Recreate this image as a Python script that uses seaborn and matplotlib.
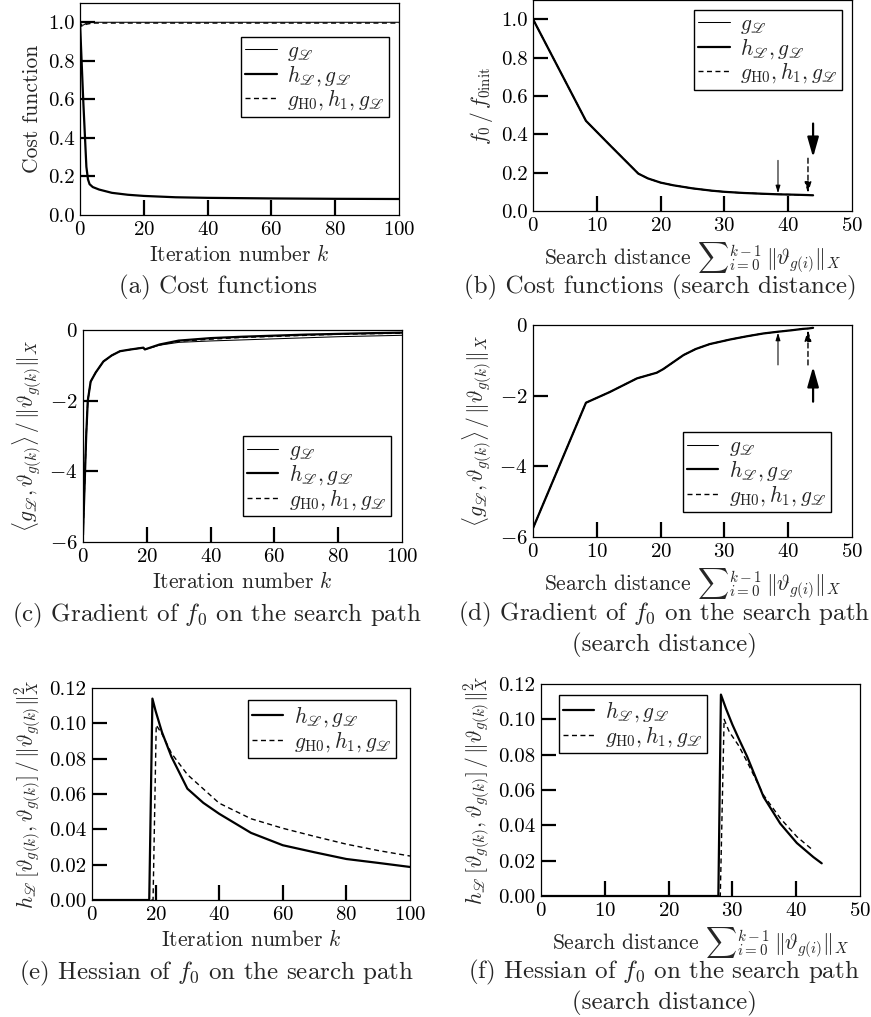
import matplotlib
matplotlib.use('Agg')
import matplotlib.pyplot as plt
import seaborn as sns

# ---- data ----
# (a) cost functions vs iteration number
a_k_top = [0, 0.5, 1, 2, 4, 100]
a_top = [1.0, 0.985, 0.985, 0.995, 1.0, 1.0]
a_top_gh = [1.0, 0.98, 0.982, 0.99, 0.996, 0.996]
a_k = [0, 1, 2, 2.5, 3, 4, 6, 10, 15, 20, 30, 40, 60, 80, 100]
a_cost = [1.0, 0.6, 0.25, 0.185, 0.16, 0.145, 0.132, 0.115, 0.105, 0.099, 0.092, 0.089, 0.086, 0.084, 0.083]

# (b) cost function vs search distance
b_dist = [0, 8.3, 12, 16.5, 18, 20, 22, 25, 28, 30, 33, 36, 38.4, 41, 43.1, 43.9]
b_cost = [1.0, 0.47, 0.345, 0.195, 0.17, 0.148, 0.134, 0.118, 0.106, 0.1, 0.094, 0.09, 0.087, 0.085, 0.083, 0.082]
b_end = [38.4, 43.1, 43.9]          # where g, gH0 and h runs stop
b_tail = [0.264, 0.275, 0.456]
b_tip = [0.093, 0.093, 0.28]

# (c) gradient vs iteration number
c_k = [0, 1, 1.5, 2.4, 4, 6.4, 9, 11.6, 15, 18.9, 19.4, 24, 30, 40, 50, 60, 70, 80, 90, 100]
c_h = [-5.8, -3.0, -2.0, -1.46, -1.2, -0.89, -0.72, -0.6, -0.55, -0.5, -0.55, -0.41, -0.3, -0.23, -0.19, -0.16, -0.13, -0.11, -0.09, -0.075]
c_g = [-5.8, -3.0, -2.0, -1.46, -1.2, -0.89, -0.72, -0.6, -0.55, -0.5, -0.55, -0.43, -0.35, -0.31, -0.28, -0.25, -0.22, -0.19, -0.17, -0.15]
c_gh = [-5.8, -3.0, -2.0, -1.46, -1.2, -0.89, -0.72, -0.6, -0.55, -0.5, -0.55, -0.42, -0.32, -0.26, -0.21, -0.18, -0.15, -0.12, -0.105, -0.09]

# (d) gradient vs search distance
d_dist = [0, 8.3, 12, 16.3, 19.4, 20.4, 22, 23.6, 25.5, 27.7, 30.9, 33.5, 36.1, 38.4, 40.5, 42.3, 43.1, 43.9]
d_grad = [-5.75, -2.2, -1.9, -1.51, -1.35, -1.25, -1.05, -0.85, -0.68, -0.54, -0.41, -0.32, -0.24, -0.19, -0.15, -0.11, -0.1, -0.08]
d_end = [38.4, 43.1, 43.9]
d_tail = [-1.13, -1.13, -2.17]
d_tip = [-0.22, -0.14, -1.18]

# (e) hessian vs iteration number
e_k_h = [0, 18, 19, 20, 22, 25, 30, 35, 40, 50, 60, 70, 80, 90, 100]
e_h = [0, 0, 0.114, 0.107, 0.095, 0.081, 0.063, 0.055, 0.0488, 0.038, 0.031, 0.027, 0.0232, 0.021, 0.0187]
e_k_gh = [0, 19.2, 20.2, 22, 25, 30, 40, 50, 60, 70, 80, 90, 100]
e_gh = [0, 0, 0.099, 0.094, 0.083, 0.071, 0.0548, 0.046, 0.0406, 0.036, 0.0316, 0.028, 0.0249]

# (f) hessian vs search distance
f_dist_h = [0, 27.8, 28.2, 29, 30, 31, 32.3, 34.9, 37.5, 40.1, 42.7, 44]
f_h = [0, 0, 0.114, 0.106, 0.097, 0.089, 0.079, 0.056, 0.041, 0.030, 0.022, 0.0185]
f_dist_gh = [0, 28.1, 28.7, 29.5, 31, 32.3, 34.9, 37.5, 40.1, 42.6]
f_gh = [0, 0, 0.100, 0.093, 0.085, 0.076, 0.057, 0.044, 0.0336, 0.026]

k_ticks = [0, 20, 40, 60, 80, 100]
dist_ticks = [0, 10, 20, 30, 40, 50]
cost_ticks = [0, 0.2, 0.4, 0.6, 0.8, 1.0]
grad_ticks = [-6, -4, -2, 0]
hess_ticks = [0, 0.02, 0.04, 0.06, 0.08, 0.10, 0.12]

lab_g = r'$g_{\mathscr{L}}$'
lab_h = r'$h_{\mathscr{L}}, g_{\mathscr{L}}$'
lab_gh = r'$g_{\mathrm{H0}}, h_1, g_{\mathscr{L}}$'
xlab_k = r'Iteration number $k$'
xlab_d = r'Search distance ${\sum}_{i=0}^{k-1}\,\|\vartheta_{g(i)}\|_X$'
grad_lab = r'$\langle g_{\mathscr{L}}, \vartheta_{g(k)}\rangle\,/\,\|\vartheta_{g(k)}\|_X$'
hess_lab = r'$h_{\mathscr{L}}\,[\vartheta_{g(k)}, \vartheta_{g(k)}]\,/\,\|\vartheta_{g(k)}\|_X^2$'

# ---- style ----
sns.set_style('ticks')
plt.rcParams['font.family'] = ['cmr10', 'DejaVu Serif']
plt.rcParams['mathtext.fontset'] = 'cm'
plt.rcParams['axes.formatter.use_mathtext'] = True
plt.rcParams['axes.unicode_minus'] = True

thin = dict(color='k', lw=0.75)
thick = dict(color='k', lw=1.6)
dash = dict(color='k', lw=1.0, linestyle=(0, (3.6, 2.5)))

W, H = 871, 1017
TICK = 15  # tick length in pixels, pointing into the axes
fig = plt.figure(figsize=(W / 100, H / 100), dpi=100)


def add_ax(l, t, r, b):
    ax = fig.add_axes([l / W, 1 - b / H, (r - l) / W, (b - t) / H])
    ax.px = (r - l, b - t)
    return ax


def style(ax, xlabel, ylabel, xlim, ylim, xticks, yticks, fmt):
    ax.set_xlim(*xlim)
    ax.set_ylim(*ylim)
    ax.set_xticks(xticks)
    ax.set_yticks(yticks)
    ax.set_yticklabels([fmt.format(v) for v in yticks])
    ax.set_xlabel(xlabel, fontsize=15.5, labelpad=4)
    ax.set_ylabel(ylabel, fontsize=15.5, labelpad=4)
    ax.tick_params(axis='both', which='major', length=0, labelsize=15,
                   top=False, right=False, pad=4, colors='k')
    for s in ax.spines.values():
        s.set_linewidth(0.9)
        s.set_color('k')
    # inward tick marks on the bottom and left spines
    w, h = ax.px
    for x in xticks:
        if xlim[0] < x < xlim[1]:
            ax.plot([x, x], [0, TICK / h], transform=ax.get_xaxis_transform(),
                    color='k', lw=1.6, zorder=10, solid_capstyle='butt')
    for y in yticks:
        if ylim[0] < y < ylim[1]:
            ax.plot([0, TICK / w], [y, y], transform=ax.get_yaxis_transform(),
                    color='k', lw=1.6, zorder=10, solid_capstyle='butt')


def legend(ax, loc, anchor):
    ax.legend(loc=loc, bbox_to_anchor=anchor, fontsize=15.5, frameon=True,
              fancybox=False, edgecolor='k', framealpha=1, handlelength=1.45,
              borderpad=0.2, labelspacing=0.0, handletextpad=0.5,
              borderaxespad=0.0)


def line(ax, x, y, kw, label=None):
    sns.lineplot(x=x, y=y, ax=ax, estimator=None, sort=False, label=label, **kw)


def arrows(ax, xs, tails, tips):
    heads = ['-|>,head_length=0.45,head_width=0.14',
             '-|>,head_length=0.65,head_width=0.2',
             '-|>,head_length=1.2,head_width=0.34']
    kws = [thin, dash, thick]
    for x, t0, t1, hs, kw in zip(xs, tails, tips, heads, kws):
        ax.annotate('', xy=(x, t1), xytext=(x, t0),
                    arrowprops=dict(arrowstyle=hs, color='k', lw=kw['lw'],
                                    linestyle=kw.get('linestyle', '-'),
                                    shrinkA=0, shrinkB=0))


# (a)
ax = add_ax(80, 3, 399, 215)
line(ax, a_k_top, a_top, thin, lab_g)
line(ax, a_k, a_cost, thick, lab_h)
line(ax, a_k_top, a_top_gh, dash, lab_gh)
style(ax, xlab_k, 'Cost function', (0, 100), (0, 1.1), k_ticks, cost_ticks, '{:.1f}')
legend(ax, 'upper right', (0.969, 0.84))

# (b)
ax = add_ax(533, 0, 852, 211)
n_g = b_dist.index(b_end[0]) + 1
n_gh = b_dist.index(b_end[1]) + 1
line(ax, b_dist[:n_g], b_cost[:n_g], thin, lab_g)
line(ax, b_dist, b_cost, thick, lab_h)
line(ax, b_dist[:n_gh], b_cost[:n_gh], dash, lab_gh)
arrows(ax, b_end, b_tail, b_tip)
style(ax, xlab_d, r'$f_0\,/\,f_{0\mathrm{init}}$', (0, 50), (0, 1.1), dist_ticks, cost_ticks, '{:.1f}')
legend(ax, 'upper right', (0.969, 0.953))

# (c)
ax = add_ax(83, 330, 402, 542)
line(ax, c_k, c_g, thin, lab_g)
line(ax, c_k, c_h, thick, lab_h)
line(ax, c_k, c_gh, dash, lab_gh)
style(ax, xlab_k, grad_lab, (0, 100), (-6, 0), k_ticks, grad_ticks, '${:d}$')
legend(ax, 'lower right', (0.965, 0.123))

# (d)
ax = add_ax(533, 325, 852, 537)
n_g = d_dist.index(d_end[0]) + 1
n_gh = d_dist.index(d_end[1]) + 1
line(ax, d_dist[:n_g], d_grad[:n_g], thin, lab_g)
line(ax, d_dist, d_grad, thick, lab_h)
line(ax, d_dist[:n_gh], d_grad[:n_gh], dash, lab_gh)
arrows(ax, d_end, d_tail, d_tip)
style(ax, xlab_d, grad_lab, (0, 50), (-6, 0), dist_ticks, grad_ticks, '${:d}$')
legend(ax, 'lower right', (0.934, 0.118))

# (e)
ax = add_ax(92, 688, 410, 900)
line(ax, e_k_h, e_h, thick, lab_h)
line(ax, e_k_gh, e_gh, dash, lab_gh)
style(ax, xlab_k, hess_lab, (0, 100), (0, 0.12), k_ticks, hess_ticks, '{:.2f}')
legend(ax, 'upper right', (0.956, 0.943))

# (f)
ax = add_ax(541, 684, 860, 896)
line(ax, f_dist_h, f_h, thick, lab_h)
line(ax, f_dist_gh, f_gh, dash, lab_gh)
style(ax, xlab_d, hess_lab, (0, 50), (0, 0.12), dist_ticks, hess_ticks, '{:.2f}')
legend(ax, 'upper left', (0.056, 0.948))

# captions
cap = dict(fontsize=18, ha='center', va='center', multialignment='center', linespacing=1.2)
fig.text(218 / W, 1 - 287 / H, '(a) Cost functions', **cap)
fig.text(660 / W, 1 - 287 / H, '(b) Cost functions (search distance)', **cap)
fig.text(217 / W, 1 - 615 / H, r'(c) Gradient of $f_0$ on the search path', **cap)
fig.text(664 / W, 1 - 629 / H, '(d) Gradient of $f_0$ on the search path\n(search distance)', **cap)
fig.text(217 / W, 1 - 973 / H, r'(e) Hessian of $f_0$ on the search path', **cap)
fig.text(664 / W, 1 - 987 / H, '(f) Hessian of $f_0$ on the search path\n(search distance)', **cap)

fig.savefig('out.png', dpi=100)
